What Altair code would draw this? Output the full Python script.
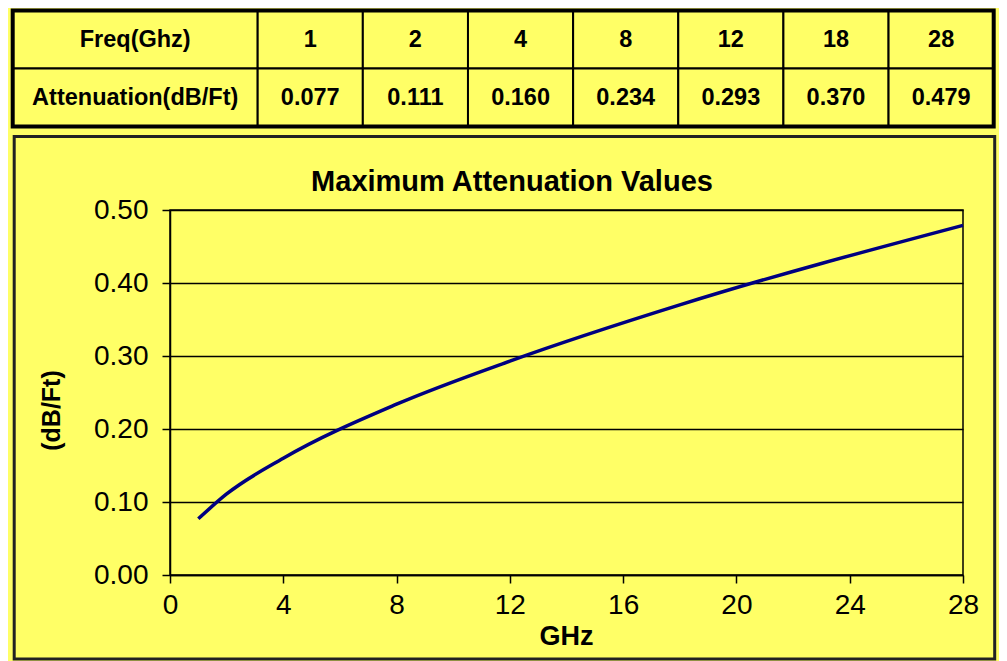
import altair as alt
import pandas as pd

# ---------------- data ----------------
freq_ghz = [1, 2, 4, 8, 12, 18, 28]
atten_db_ft = [0.077, 0.111, 0.160, 0.234, 0.293, 0.370, 0.479]
row_labels = ["Freq(Ghz)", "Attenuation(dB/Ft)"]
x_ticks = [0, 4, 8, 12, 16, 20, 24, 28]
y_ticks = [0.0, 0.1, 0.2, 0.3, 0.4, 0.5]
chart_title = "Maximum Attenuation Values"

FONT = "Liberation Sans"
BG = "#FFFF66"
W, H = 793, 365

# ---------------- main line chart ----------------
line_df = pd.DataFrame({"GHz": freq_ghz, "dBFt": atten_db_ft})

line = alt.Chart(line_df).mark_line(
    color="#000080", strokeWidth=3.5, interpolate="monotone"
).encode(
    x=alt.X("GHz:Q",
            scale=alt.Scale(domain=[0, 28], nice=False),
            axis=alt.Axis(values=x_ticks, title="GHz", grid=False,
                          labelFontSize=28, labelPadding=8, labelFlush=False,
                          titleFontSize=27, titleFontWeight="bold",
                          titleBaseline="alphabetic", titleY=69, titleX=396)),
    y=alt.Y("dBFt:Q",
            scale=alt.Scale(domain=[0, 0.5], nice=False),
            axis=alt.Axis(values=y_ticks, format=".2f", title="(dB/Ft)", grid=True,
                          gridColor="black", gridWidth=1.5,
                          labelFontSize=28, labelPadding=14, labelFlush=False,
                          titleFontSize=25, titleFontWeight="bold",
                          titleBaseline="middle", titleAngle=-90,
                          titleX=-119, titleY=200)),
)

# ---------------- table ----------------
first_w = 2.33
total_w = first_w + len(freq_ghz)
cells = []
values_rows = [[str(f) for f in freq_ghz], [f"{a:.3f}" for a in atten_db_ft]]
for r, lab in enumerate(row_labels):
    cells.append({"x0": 0.0, "x1": first_w, "y0": r, "y1": r + 1,
                  "xm": first_w / 2, "ym": r + 0.5, "txt": lab})
    for i, v in enumerate(values_rows[r]):
        x0 = first_w + i
        cells.append({"x0": x0, "x1": x0 + 1, "y0": r, "y1": r + 1,
                      "xm": x0 + 0.5, "ym": r + 0.5, "txt": v})
cells_df = pd.DataFrame(cells)

tx = alt.Scale(domain=[0, total_w], range=[-157.3, 823.7], nice=False, zero=False)
ty = alt.Scale(domain=[0, 2], range=[-199.5, -83.5], nice=False, zero=False)

t_rect = alt.Chart(cells_df).mark_rect(fill=BG, stroke="black", strokeWidth=2).encode(
    x=alt.X("x0:Q", scale=tx, axis=None), x2="x1:Q",
    y=alt.Y("y0:Q", scale=ty, axis=None), y2="y1:Q",
)
t_text = alt.Chart(cells_df).mark_text(
    font=FONT, fontSize=23.5, fontWeight="bold", color="black", baseline="middle"
).encode(
    x=alt.X("xm:Q", scale=tx, axis=None),
    y=alt.Y("ym:Q", scale=ty, axis=None),
    text="txt:N",
)
outer_df = pd.DataFrame({"x0": [0.0], "x1": [total_w], "y0": [0], "y1": [2]})
t_outer = alt.Chart(outer_df).mark_rect(fill=None, stroke="black", strokeWidth=4).encode(
    x=alt.X("x0:Q", scale=tx, axis=None), x2="x1:Q",
    y=alt.Y("y0:Q", scale=ty, axis=None), y2="y1:Q",
)
table = alt.layer(t_rect, t_outer, t_text)

# ---------------- decorations ----------------
one = alt.Data(values=[{}])
frame = alt.Chart(one).mark_rect(fill=None, stroke="#222222", strokeWidth=3).encode(
    x=alt.value(-155.8), x2=alt.value(824.7), y=alt.value(-73.5), y2=alt.value(449)
)
title = alt.Chart(pd.DataFrame({"t": [chart_title]})).mark_text(
    font=FONT, fontSize=29, fontWeight="bold", color="black", baseline="middle"
).encode(x=alt.value(342), y=alt.value(-28.5), text="t:N")

chart = alt.layer(line, table, frame, title).resolve_scale(
    x="independent", y="independent"
).properties(
    width=W, height=H, background=BG,
    padding={"left": 2, "top": 0, "right": 2, "bottom": 2},
).configure_view(
    stroke="black", strokeWidth=1.5
).configure_axis(
    labelFont=FONT, titleFont=FONT, labelColor="black", titleColor="black",
    domainColor="black", domainWidth=1.5, tickColor="black", tickWidth=1.5,
    tickSize=8,
)

chart.save("out.html", embed_options={"renderer": "svg", "actions": False})
